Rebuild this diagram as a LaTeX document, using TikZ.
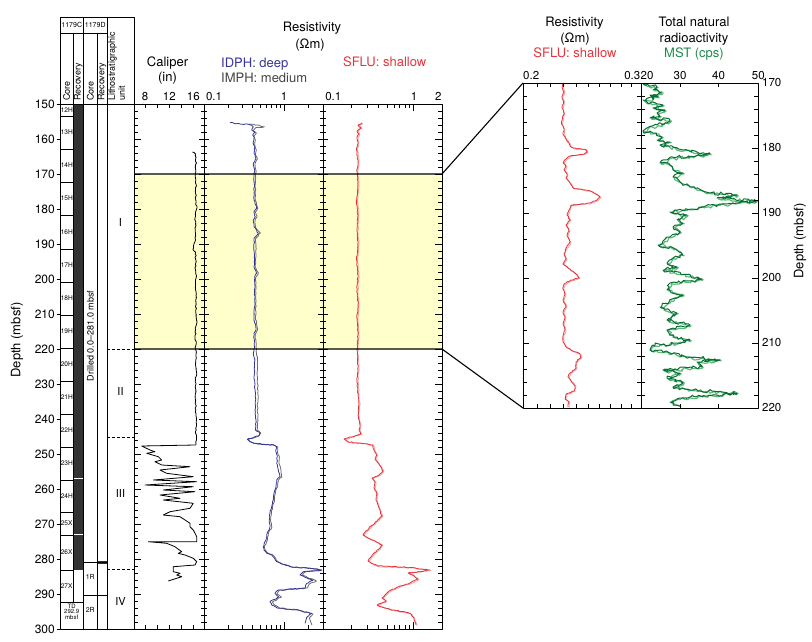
\documentclass[tikz,border=0pt]{standalone}
\usepackage{fontspec}
\setmainfont{TeX Gyre Heros}
\usetikzlibrary{decorations.pathmorphing}
\definecolor{hl}{HTML}{FFFFCC}
\definecolor{rec}{HTML}{333333}
\definecolor{idph}{HTML}{34349A}
\definecolor{imph}{HTML}{6A6A6A}
\definecolor{imphtxt}{HTML}{444444}
\definecolor{sflu}{HTML}{E2343C}
\definecolor{sflulight}{HTML}{F5A3A3}
\definecolor{mstd}{HTML}{096E35}
\definecolor{mstl}{HTML}{5DBB78}
\definecolor{msttxt}{HTML}{1F8B4C}
\begin{document}
\pgfmathsetseed{4321}
\begin{tikzpicture}[x=1pt,y=-1pt,line join=round,
  hdr/.style={font=\fontsize{13}{15}\selectfont,inner sep=0,anchor=base},
  axl/.style={font=\fontsize{11.5}{13}\selectfont,inner sep=0,anchor=base},
  dep/.style={font=\fontsize{12}{14}\selectfont,inner sep=0,anchor=east},
  rdep/.style={font=\fontsize{11.5}{13}\selectfont,inner sep=0,anchor=west},
  smalltxt/.style={font=\fontsize{6.6}{7}\selectfont,inner sep=0},
  colhdr/.style={font=\fontsize{9}{10}\selectfont,inner sep=0,rotate=90,anchor=west},
  unitlbl/.style={font=\fontsize{11}{13}\selectfont,inner sep=0},
  trackframe/.style={line width=0.9pt},
  hlline/.style={line width=1.1pt,black},
  boxln/.style={line width=0.7pt},
  tk/.style={line width=0.7pt},
  unitdash/.style={line width=0.8pt,dash pattern=on 3pt off 2pt},
  curve/.style={line width=0.8pt},
  jit/.style={decorate,decoration={random steps,segment length=2pt,amplitude=#1}},
  jit/.default=0.6]
\useasboundingbox (0,0) rectangle (812,642);

% highlight band
\fill[hl] (134,174) rectangle (442,349);

% ---------- core / litho columns ----------
\fill[rec] (73,104) rectangle (83.5,570);
\draw[white,line width=1pt] (73.6,478) -- (83,478);
\draw[white,line width=1pt] (73.6,534) -- (83,534);
\fill[rec] (97,561) rectangle (107,564);

\draw[boxln] (60,17) rectangle (134,629);
\draw[boxln] (60,33) -- (107,33);
\draw[boxln] (60,104) -- (134,104);
\draw[boxln] (73,33) -- (73,602);
\draw[boxln] (83.5,17) -- (83.5,629);
\draw[boxln] (97,33) -- (97,629);
\draw[boxln] (107,17) -- (107,629);
\draw[boxln] (60,602) -- (83.5,602);
\draw[boxln] (83.5,562) -- (107,562);
\draw[boxln] (83.5,595) -- (107,595);

\node[font=\fontsize{7}{8}\selectfont,inner sep=0] (h1179C) at (71.75,25) {1179C};
\node[font=\fontsize{7}{8}\selectfont,inner sep=0] (h1179D) at (95.25,25) {1179D};
\node[colhdr] (hcoreC) at (66.5,101) {Core};
\node[colhdr] (hrecC) at (78.3,101) {Recovery};
\node[colhdr] (hcoreD) at (90.3,101) {Core};
\node[colhdr] (hrecD) at (102,101) {Recovery};
\node[colhdr,align=left] (hlith) at (116.7,101) {Lithostratigraphic\\unit};

\foreach \lab/\ya/\yb in {12H/104/116,13H/116/149,14H/149/182,15H/182/215,16H/215/249,17H/249/282,18H/282/315,19H/315/348,20H/348/381,21H/381/414,22H/414/447,23H/447/480,24H/480/512,25X/512/535,26X/535/570,27X/570/602}{
  \node[smalltxt,anchor=west] (core\lab) at (60.6,{(\ya+\yb)/2}) {\lab};
  \draw[boxln] (60,\yb) -- (73,\yb);
}
\node[smalltxt,font=\fontsize{6}{6}\selectfont] (td1) at (71.7,606) {TD};
\node[smalltxt,font=\fontsize{6}{6}\selectfont] (td2) at (71.7,611.5) {292.9};
\node[smalltxt,font=\fontsize{6}{6}\selectfont] (td3) at (71.7,617) {mbsf};
\node[smalltxt,font=\fontsize{7}{8}\selectfont] (r1) at (90.3,577) {1R};
\node[smalltxt,font=\fontsize{7}{8}\selectfont] (r2) at (90.3,610) {2R};
\node[font=\fontsize{9}{10}\selectfont,inner sep=0,rotate=90] (drilled) at (90.3,336) {Drilled 0.0–281.0 mbsf};

\draw[unitdash] (107,437) -- (135,437);
\draw[unitdash] (107,569) -- (134,569);
\draw[unitdash] (107,349) -- (134,349);
\node[unitlbl] (u1) at (120.5,222) {I};
\node[unitlbl] (u2) at (120.5,391) {II};
\node[unitlbl] (u3) at (120.5,493) {III};
\node[unitlbl] (u4) at (120.5,601) {IV};

% left depth axis
\foreach \d in {150,160,...,300}{
  \node[dep] (dl\d) at (55,{104+(\d-150)*3.5}) {\d};
  \draw[tk] (56.5,{104+(\d-150)*3.5}) -- (60,{104+(\d-150)*3.5});
}
\node[font=\fontsize{13}{15}\selectfont,inner sep=0,rotate=90] (depthL) at (17,340) {Depth (mbsf)};

% ---------- headers of log tracks ----------
\node[hdr] (calT) at (167.5,66.4) {Caliper};
\node[hdr] (calU) at (167.5,82) {(in)};
\node[hdr] (resT) at (312,32) {Resistivity};
\node[hdr] (resU) at (310,48.7) {(Ωm)};
\node[hdr,anchor=base west,text=idph] (idphT) at (221,67) {IDPH: deep};
\node[hdr,anchor=base west,text=imphtxt] (imphT) at (221,83) {IMPH: medium};
\node[hdr,text=sflu] (sfluT) at (384.7,66.4) {SFLU: shallow};

\node[axl] (a8) at (145,100.8) {8};
\node[axl] (a12) at (169.3,100.8) {12};
\node[axl] (a16) at (193.3,100.8) {16};
\node[axl] (a01) at (214,100.8) {0.1};
\node[axl] (a1) at (284,100.8) {1};
\node[axl] (b01) at (333.3,100.8) {0.1};
\node[axl] (b1) at (414,100.8) {1};
\node[axl] (b2) at (438.3,100.8) {2};

% ---------- curves, left tracks ----------
% caliper
\draw[curve,black,jit=0.7] (192.5,152) -- (194,152.5) -- (195.5,154) -- (195.5,160) -- (196.5,163) -- (195.5,168) -- (195.8,180) -- (196.5,186) -- (195.5,190) -- (196,205) -- (197,208) -- (195.5,212) -- (195.5,240) -- (193.5,246) -- (193,249) -- (195.5,252) -- (195.5,270) -- (196.5,276) -- (195.5,280) -- (195.8,300) -- (196.5,320) -- (195.5,330) -- (195.8,360) -- (196.5,372) -- (195.6,380) -- (195.8,410) -- (196.3,430) -- (195.7,445);
\draw[curve,black] (195.7,445)
 -- (141.7,446) -- (150,450) -- (155,451.7) -- (146.7,453.3) -- (158.3,456.7) -- (161.7,460) -- (155,461.7) -- (161.7,465) -- (190,466.7) -- (160,470) -- (166.7,473.3) -- (193.3,476.7) -- (153.3,480) -- (196.7,481.7) -- (145,485) -- (193.3,486.7) -- (163.3,490) -- (195,491.7) -- (160,495) -- (180,498.3) -- (163.3,500) -- (193.3,503.3) -- (190,508.3) -- (170,511.7) -- (163.3,515) -- (180,516.7) -- (190,523.3) -- (190,526.7) -- (193.3,530) -- (196.7,536.7) -- (196.7,541.7) -- (148.3,541.7) -- (166.7,543.3) -- (175,546.7) -- (181.7,551.7) -- (178.3,553.3) -- (185,555) -- (193.3,558.3) -- (196.7,561.7) -- (195,565) -- (173.3,566.7) -- (173.3,571.7) -- (180,573.3) -- (176.7,575) -- (181.7,576.7) -- (168.3,581);

% IMPH (gray)
\draw[curve,imph,jit=0.5,shift={(-0.6,0)}] (250,124) -- (258,125) -- (265,126.7) -- (256,128) -- (254,131) -- (257,133) -- (254.5,136) -- (256,140) -- (255.5,146) -- (257,150) -- (256,155) -- (258,159) -- (255.5,164) -- (256.5,170) -- (256,176) -- (256,200) -- (258.5,208) -- (256,212) -- (257.5,217) -- (255.5,221) -- (256,227) -- (261,233) -- (256,239) -- (256.5,254) -- (256,267) -- (259,273) -- (256.5,277) -- (256.5,300) -- (256,317) -- (258,330) -- (256,334) -- (256.5,347) -- (257,353) -- (258,360) -- (258,377) -- (258.5,390) -- (258.5,400) -- (258,410) -- (258.5,420) -- (257.5,430) -- (261.5,433) -- (259.5,436) -- (248.5,439.5) -- (251.5,442) -- (255.5,443.5) -- (274.5,445) -- (278.5,447) -- (278,452) -- (280,457) -- (279.5,463) -- (281.5,470) -- (282.5,477) -- (279,480) -- (278,487) -- (276,493) -- (275,500) -- (273,507) -- (272,513) -- (271,520) -- (272.5,527) -- (269,533) -- (268,540) -- (265,547) -- (266,550) -- (268.5,553) -- (273.5,555) -- (278.5,562) -- (292,567) -- (312,568.5) -- (322.5,570) -- (306,572) -- (303,575) -- (308,577.5) -- (317,581) -- (310,584) -- (308,588) -- (280.5,590) -- (277.5,594) -- (282,597) -- (273,602) -- (275,605) -- (280,608) -- (299,610) -- (313.5,614) -- (310,618) -- (312.5,625);
% IDPH (blue)
\draw[curve,idph,jit=0.5] (230,122.7) -- (240,124) -- (250,124.7) -- (253.3,126.7) -- (251.7,130) -- (255,131.7) -- (252.7,135) -- (254,138.3) -- (253.3,143.3) -- (255,146.7) -- (254,153.3) -- (256,158.3) -- (253.3,163.3) -- (254.7,170) -- (254,175) -- (254,200) -- (256.7,208.3) -- (254,211.7) -- (255.3,216.7) -- (253.3,220) -- (254,226.7) -- (258.3,233.3) -- (254,238.3) -- (254.3,253.3) -- (254,266.7) -- (256.7,273.3) -- (254.7,276.7) -- (254.7,300) -- (254,316.7) -- (256,330) -- (254,333.3) -- (254.7,346.7) -- (253.3,353.3) -- (255,360) -- (254,376.7) -- (255,390) -- (255.7,400) -- (255,410) -- (256,420) -- (255.3,430) -- (260,433.3) -- (258.3,436) -- (247.3,439.3) -- (250,441.7) -- (254,443.3) -- (273.3,445) -- (276.7,446.7) -- (276,451.7) -- (277.3,456.7) -- (276.7,463.3) -- (278.3,470) -- (280,476.7) -- (276.7,480) -- (276,486.7) -- (274,493.3) -- (273.3,500) -- (271.7,506.7) -- (270,513.3) -- (269.3,520) -- (270,526.7) -- (267.3,533.3) -- (266,540) -- (263.3,546.7) -- (264,550) -- (266.7,553.3) -- (271.7,555) -- (276.7,561.7) -- (290,566.7) -- (310,568.3) -- (321.7,570) -- (303.3,571.7) -- (300,575) -- (305,577.3) -- (313.3,580) -- (306.7,583.3) -- (305,588.3) -- (278.3,590) -- (275,593.3) -- (279,597) -- (270,601.7) -- (271.7,605) -- (276.7,607.7) -- (296.7,610) -- (311.7,613.3) -- (306.7,617.3) -- (305,623.3);

% SFLU track
\draw[curve,sflulight,line width=0.9pt,shift={(0.9,0.5)},jit=0.5] (362,123) -- (358,125) -- (361,128) -- (357,131) -- (359,134) -- (357,137) -- (358,142) -- (356.5,150) -- (358,160) -- (357,172) -- (358,185) -- (356.5,200) -- (358,215) -- (357,230) -- (358,245) -- (356.5,260) -- (358,275) -- (357,290) -- (358,305) -- (357,320) -- (358,335) -- (357,350) -- (358,365) -- (357,380) -- (358,395) -- (359,405) -- (358,415) -- (360,425) -- (359,430) -- (361,434) -- (344,439) -- (348,442) -- (360,443) -- (373,445) -- (374,450) -- (377,455) -- (375,459) -- (378,463) -- (383,471) -- (379,475) -- (372,478) -- (375,482) -- (374,488) -- (377,494) -- (376,500) -- (379,508) -- (382,516) -- (377,521) -- (371,526) -- (366,531) -- (363,535) -- (368,538) -- (375,541) -- (382,545) -- (379,549) -- (374,553) -- (368,561) -- (373,564) -- (378,566) -- (410,567.5) -- (430,570) -- (408,573) -- (413,575) -- (418,579) -- (410,583) -- (400,586) -- (388,592) -- (385,595) -- (382,598) -- (386,601) -- (377,605) -- (385,608) -- (392,610) -- (405,612) -- (411,614) -- (414,618) -- (416,625);
\draw[curve,sflu,jit=0.5] (362,123) -- (358,125) -- (361,128) -- (357,131) -- (359,134) -- (357,137) -- (358,142) -- (356.5,150) -- (358,160) -- (357,172) -- (358,185) -- (356.5,200) -- (358,215) -- (357,230) -- (358,245) -- (356.5,260) -- (358,275) -- (357,290) -- (358,305) -- (357,320) -- (358,335) -- (357,350) -- (358,365) -- (357,380) -- (358,395) -- (359,405) -- (358,415) -- (360,425) -- (359,430) -- (361,434) -- (344,439) -- (348,442) -- (360,443) -- (373,445) -- (374,450) -- (377,455) -- (375,459) -- (378,463) -- (383,471) -- (379,475) -- (372,478) -- (375,482) -- (374,488) -- (377,494) -- (376,500) -- (379,508) -- (382,516) -- (377,521) -- (371,526) -- (366,531) -- (363,535) -- (368,538) -- (375,541) -- (382,545) -- (379,549) -- (374,553) -- (368,561) -- (373,564) -- (378,566) -- (410,567.5) -- (430,570) -- (408,573) -- (413,575) -- (418,579) -- (410,583) -- (400,586) -- (388,592) -- (385,595) -- (382,598) -- (386,601) -- (377,605) -- (385,608) -- (392,610) -- (405,612) -- (411,614) -- (414,618) -- (416,625);

% ---------- frames and ticks of left tracks ----------
\draw[trackframe] (134,104) rectangle (442,629);
\draw[trackframe] (204,104) -- (204,629);
\draw[trackframe] (323,104) -- (323,629);
\foreach \d in {152,154,...,298}{
  \draw[tk] (134,{104+(\d-150)*3.5}) -- ++(4,0);
  \draw[tk] (201,{104+(\d-150)*3.5}) -- ++(6,0);
  \draw[tk] (320,{104+(\d-150)*3.5}) -- ++(6,0);
  \draw[tk] (442,{104+(\d-150)*3.5}) -- ++(-4,0);
}
\foreach \d in {160,170,...,290}{
  \draw[tk] (134,{104+(\d-150)*3.5}) -- ++(7,0);
  \draw[tk] (199,{104+(\d-150)*3.5}) -- ++(10,0);
  \draw[tk] (318,{104+(\d-150)*3.5}) -- ++(10,0);
  \draw[tk] (442,{104+(\d-150)*3.5}) -- ++(-7,0);
}
\foreach \x in {145,157,169,181,193}{
  \draw[tk] (\x,104) -- ++(0,4);
  \draw[tk] (\x,629) -- ++(0,-4);
}
\foreach \f in {0.30103,0.47712,0.60206,0.69897,0.77815,0.84510,0.90309,0.95424,1.30103}{
  \draw[tk] ({204.3+79.7*\f},104) -- ++(0,4);
  \draw[tk] ({204.3+79.7*\f},629) -- ++(0,-4);
}
\draw[tk] (284,104) -- ++(0,7);
\draw[tk] (284,629) -- ++(0,-7);
\foreach \f in {0.30103,0.47712,0.60206,0.69897,0.77815,0.84510,0.90309,0.95424}{
  \draw[tk] ({325+88.5*\f},104) -- ++(0,4);
  \draw[tk] ({325+88.5*\f},629) -- ++(0,-4);
}
\draw[tk] (413.5,104) -- ++(0,7);
\draw[tk] (413.5,629) -- ++(0,-7);

% highlight lines and connectors
\coordinate (hlAL) at (134,174);
\coordinate (hlA) at (442,174);
\coordinate (hlBL) at (134,349);
\coordinate (hlB) at (442,349);
\coordinate (zmA) at (523,83);
\coordinate (zmB) at (523,408);
\draw[hlline] (hlAL) -- (hlA) -- (zmA);
\draw[hlline] (hlBL) -- (hlB) -- (zmB);

% ---------- right panel ----------
\node[hdr] (rresT) at (574.5,26.4) {Resistivity};
\node[hdr] (rresU) at (575,43) {(Ωm)};
\node[hdr,text=sflu] (rsfluT) at (575,58) {SFLU: shallow};
\node[hdr] (radT1) at (694,26.4) {Total natural};
\node[hdr] (radT2) at (694,43) {radioactivity};
\node[hdr,text=msttxt] (mstT) at (694,58) {MST (cps)};
\node[axl,anchor=base west] (c02) at (523,79.3) {0.2};
\node[axl,anchor=base east] (c03) at (640.5,79.3) {0.3};
\node[axl,anchor=base west] (c20) at (640.5,79.3) {20};
\node[axl] (c30) at (680,79.3) {30};
\node[axl] (c40) at (718.5,79.3) {40};
\node[axl] (c50) at (758.3,79.3) {50};

% right SFLU
\draw[curve,sflulight,line width=0.9pt,shift={(0.9,0.5)},jit=0.5] (563,83) -- (562.5,88) -- (564,92) -- (562,97) -- (563.5,102) -- (562,108) -- (564,113) -- (562.5,118) -- (561.5,124) -- (564,129) -- (563,134) -- (566,139) -- (568,142) -- (570,146) -- (573,148) -- (586,149.5) -- (587,152) -- (584,154) -- (570,156) -- (566,159) -- (563,163) -- (566,166) -- (564,170) -- (567,174) -- (566,178) -- (570,183) -- (573,188) -- (590,191) -- (596,194) -- (600,197) -- (597,200) -- (590,203) -- (571,205) -- (569,210) -- (567,215) -- (570,220) -- (566,225) -- (569,231) -- (567,236) -- (570,242) -- (566,248) -- (564,254) -- (566,259) -- (563,264) -- (568,268) -- (576,274) -- (579,278) -- (571,280) -- (564,284) -- (563,289) -- (565,294) -- (563,300) -- (566,306) -- (563,312) -- (565,318) -- (563,324) -- (565,330) -- (563,336) -- (563,342) -- (566,347) -- (571,350) -- (580,354) -- (581,357) -- (576,362) -- (576,368) -- (570,373) -- (568,377) -- (571,381) -- (575,386) -- (574,391) -- (566,394) -- (565,399) -- (569,402) -- (568,407);
\draw[curve,sflu,jit=0.5] (563,83) -- (562.5,88) -- (564,92) -- (562,97) -- (563.5,102) -- (562,108) -- (564,113) -- (562.5,118) -- (561.5,124) -- (564,129) -- (563,134) -- (566,139) -- (568,142) -- (570,146) -- (573,148) -- (586,149.5) -- (587,152) -- (584,154) -- (570,156) -- (566,159) -- (563,163) -- (566,166) -- (564,170) -- (567,174) -- (566,178) -- (570,183) -- (573,188) -- (590,191) -- (596,194) -- (600,197) -- (597,200) -- (590,203) -- (571,205) -- (569,210) -- (567,215) -- (570,220) -- (566,225) -- (569,231) -- (567,236) -- (570,242) -- (566,248) -- (564,254) -- (566,259) -- (563,264) -- (568,268) -- (576,274) -- (579,278) -- (571,280) -- (564,284) -- (563,289) -- (565,294) -- (563,300) -- (566,306) -- (563,312) -- (565,318) -- (563,324) -- (565,330) -- (563,336) -- (563,342) -- (566,347) -- (571,350) -- (580,354) -- (581,357) -- (576,362) -- (576,368) -- (570,373) -- (568,377) -- (571,381) -- (575,386) -- (574,391) -- (566,394) -- (565,399) -- (569,402) -- (568,407);

% MST
\draw[curve,mstl,line width=1.2pt,shift={(1.2,0.8)},decorate,decoration={random steps,segment length=2.5pt,amplitude=1.8pt}] (643,84) -- (657,87) -- (653,90) -- (662,92) -- (650,95) -- (658,97) -- (643,100) -- (650,103) -- (663,105) -- (653,108) -- (665,110) -- (657,113) -- (660,116) -- (650,118) -- (670,120) -- (667,123) -- (657,125) -- (647,128) -- (643,131) -- (653,133) -- (662,137) -- (657,140) -- (670,142) -- (660,145) -- (683,150) -- (710,154) -- (677,157) -- (667,160) -- (660,163) -- (670,165) -- (673,170) -- (683,173) -- (673,177) -- (680,182) -- (690,187) -- (703,191) -- (710,193) -- (737,195) -- (717,198) -- (756,201) -- (723,204) -- (703,207) -- (692,209) -- (670,212) -- (687,215) -- (677,220) -- (683,223) -- (673,227) -- (680,232) -- (670,237) -- (663,241) -- (658,245) -- (670,247) -- (677,250) -- (683,255) -- (673,258) -- (667,263) -- (677,267) -- (663,270) -- (702,279) -- (670,283) -- (667,290) -- (683,295) -- (670,300) -- (660,307) -- (677,313) -- (667,320) -- (690,325) -- (667,330) -- (673,337) -- (690,340) -- (677,343) -- (653,345) -- (650,350) -- (670,353) -- (690,357) -- (720,360) -- (697,362) -- (702,367) -- (663,370) -- (680,373) -- (667,378) -- (683,382) -- (673,387) -- (693,390) -- (737,393) -- (680,398) -- (670,402) -- (680,406);
\draw[curve,mstd,line width=1pt,decorate,decoration={random steps,segment length=2.5pt,amplitude=1.8pt}] (643,84) -- (657,87) -- (653,90) -- (662,92) -- (650,95) -- (658,97) -- (643,100) -- (650,103) -- (663,105) -- (653,108) -- (665,110) -- (657,113) -- (660,116) -- (650,118) -- (670,120) -- (667,123) -- (657,125) -- (647,128) -- (643,131) -- (653,133) -- (662,137) -- (657,140) -- (670,142) -- (660,145) -- (683,150) -- (710,154) -- (677,157) -- (667,160) -- (660,163) -- (670,165) -- (673,170) -- (683,173) -- (673,177) -- (680,182) -- (690,187) -- (703,191) -- (710,193) -- (737,195) -- (717,198) -- (756,201) -- (723,204) -- (703,207) -- (692,209) -- (670,212) -- (687,215) -- (677,220) -- (683,223) -- (673,227) -- (680,232) -- (670,237) -- (663,241) -- (658,245) -- (670,247) -- (677,250) -- (683,255) -- (673,258) -- (667,263) -- (677,267) -- (663,270) -- (702,279) -- (670,283) -- (667,290) -- (683,295) -- (670,300) -- (660,307) -- (677,313) -- (667,320) -- (690,325) -- (667,330) -- (673,337) -- (690,340) -- (677,343) -- (653,345) -- (650,350) -- (670,353) -- (690,357) -- (720,360) -- (697,362) -- (702,367) -- (663,370) -- (680,373) -- (667,378) -- (683,382) -- (673,387) -- (693,390) -- (737,393) -- (680,398) -- (670,402) -- (680,406);

% right frames and ticks
\draw[trackframe] (523,83) rectangle (758,408);
\draw[trackframe] (641,83) -- (641,408);
\foreach \d in {172,174,...,218}{
  \draw[tk] (523,{83+(\d-170)*6.5}) -- ++(4,0);
  \draw[tk] (637,{83+(\d-170)*6.5}) -- ++(8,0);
  \draw[tk] (758,{83+(\d-170)*6.5}) -- ++(-4,0);
}
\foreach \d in {180,190,200,210}{
  \draw[tk] (523,{83+(\d-170)*6.5}) -- ++(6,0);
  \draw[tk] (636,{83+(\d-170)*6.5}) -- ++(10,0);
  \draw[tk] (758,{83+(\d-170)*6.5}) -- ++(-6,0);
}
\foreach \f in {0.120,0.235,0.345,0.450,0.550,0.647,0.740,0.830,0.916}{
  \draw[tk] ({523+118*\f},83) -- ++(0,4);
  \draw[tk] ({523+118*\f},408) -- ++(0,-4);
}
\foreach \x in {680,718.5}{
  \draw[tk] (\x,83) -- ++(0,4);
  \draw[tk] (\x,408) -- ++(0,-4);
}
\foreach \d in {170,180,...,220}{
  \node[rdep] (rd\d) at (762,{83+(\d-170)*6.5}) {\d};
}
\node[font=\fontsize{13}{15}\selectfont,inner sep=0,rotate=90] (depthR) at (800,241) {Depth (mbsf)};
\end{tikzpicture}
\end{document}
